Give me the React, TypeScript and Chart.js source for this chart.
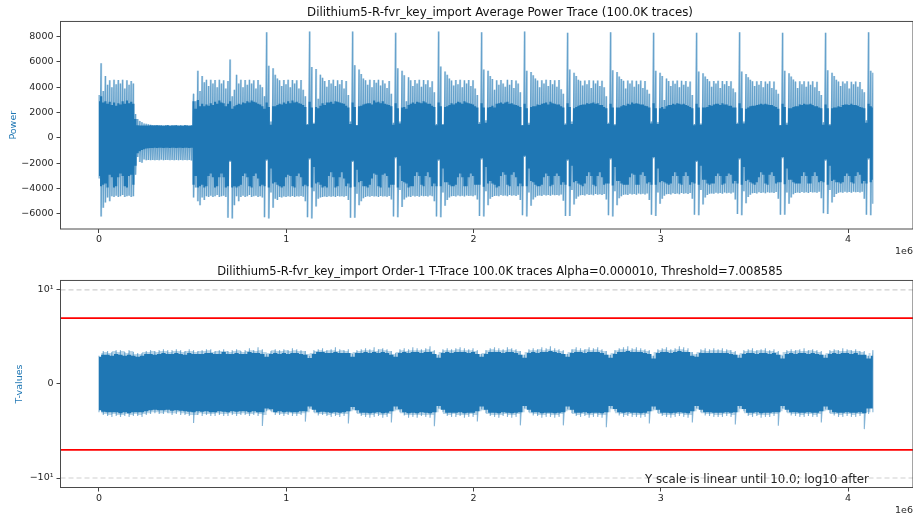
import React, { useEffect, useRef } from "react";
import { Chart, registerables } from "chart.js";

Chart.register(...registerables);

const traceColor = "#1f77b4";
const traceLine = "rgba(31,119,180,0.55)";
const traceWash = "rgba(31,119,180,0.3)";
const textColor = "#262626";
const fontFamily = "'DejaVu Sans', sans-serif";

const powerTitle = "Dilithium5-R-fvr_key_import Average Power Trace (100.0K traces)";
const tTitle = "Dilithium5-R-fvr_key_import Order-1 T-Trace 100.0K traces Alpha=0.000010, Threshold=7.008585";
const tNote = "Y scale is linear until 10.0; log10 after";

const xTicks = [0, 1000000, 2000000, 3000000, 4000000];
const xTickLabels = ["0", "1", "2", "3", "4"];
const powerTicks = [-6000, -4000, -2000, 0, 2000, 4000, 6000, 8000];
const tTicks = [-10, 0, 10];
const tTickLabels = ["−10¹", "0", "10¹"];
const tThreshold = 7.008585;
const tLogStart = 10;

const powerSampleGap = 11480;
const tSampleGap = 22960;

const powerHigh = [
  3400,5900,3700,4900,4200,4550,4000,4600,4250,4580,4300,4600,3900,4550,4200,4500,4300,1900,
  1500,1350,1250,1150,1120,1080,1050,1030,1020,1010,1000,1010,990,1000,1020,990,1000,1000,1010,990,
  1000,990,1010,1000,990,1000,3500,2900,5300,3700,4900,4400,4600,4100,4600,4300,4580,4000,4600,4300,
  4550,3900,4500,6200,3300,3800,5000,4300,4600,4000,4580,4200,4600,4300,4550,3900,4580,4200,4000,3300,
  8350,5700,1300,5500,5000,4700,4550,4100,4580,4250,4600,4000,4580,4300,4550,3900,4580,3800,3300,1100,
  8400,5600,1200,5450,3100,5000,4750,4500,4050,4570,4300,4600,4100,4550,4250,4580,3900,4500,3400,1300,
  8400,5750,1000,5400,5050,4700,4560,4200,4590,4000,4570,4350,4600,4150,4560,4300,3950,4500,3500,1200,
  8300,5500,1300,5300,4950,2900,4800,4550,4100,4580,4300,4590,4050,4570,4250,4560,4000,4480,3600,1100,
  8400,5650,1100,5250,5000,4700,4540,4150,4570,4250,4590,4000,4560,4300,4580,4100,4550,3900,3400,1250,
  8350,5400,1400,5300,4900,4650,3800,4560,4200,4580,4300,4050,4590,4200,4570,3950,4540,4300,3600,1000,
  8400,5300,1200,5200,4950,4700,4540,4000,4560,4300,4590,4100,4570,4250,4550,4050,4580,3850,3500,1150,
  8300,5400,1300,5150,4900,4600,4520,4150,4540,4250,4550,3950,4530,4300,4540,4100,4510,4000,3300,1200,
  8350,5350,1100,5200,4850,4650,4510,3900,4530,4300,4540,4050,4520,4250,4540,3950,4500,3800,3500,1300,
  8300,5300,1250,5150,4900,3000,4700,4500,4100,4510,4280,4530,4000,4510,4200,4490,4050,4450,3400,1100,
  8300,5250,1150,5100,4850,4650,4480,4050,4500,4300,4510,3950,4490,4250,4500,4100,4470,3900,3600,1200,
  8350,5250,1300,5050,4800,4600,4470,4100,4480,4200,4490,4000,4460,4280,4480,3950,4450,3800,3500,1000,
  8300,5300,1200,5100,4850,4620,4460,3950,4470,4250,4480,4050,4450,4200,4470,4000,4440,3700,3400,1250,
  8300,5350,1100,5150,4900,4600,4450,4100,4460,4300,4470,3900,4440,4250,4450,4050,4420,3850,3600,1400,
  8350,5300,5150,
];

const powerLow = [
  -3200,-6200,-5500,-5100,-4700,-5000,-4600,-4650,-4550,-4650,-4600,-4500,-4650,-4600,-4550,-4650,-4600,-2900,
  -1500,-1900,-1950,-1700,-1750,-1740,-1750,-1730,-1760,-1740,-1750,-1720,-1760,-1740,-1730,-1750,-1740,-1760,-1730,-1750,
  -1740,-1760,-1730,-1750,-1740,-1780,-4700,-3900,-5000,-5300,-4700,-4900,-4600,-4650,-4550,-4650,-4600,-4500,-4650,-4600,
  -4550,-4650,-6300,-1900,-6350,-5300,-4600,-5000,-4650,-4550,-4650,-4600,-4500,-4650,-4600,-4550,-4650,-4600,-4700,-6250,
  -1800,-6350,-4300,-5500,-4800,-4900,-4650,-4700,-4620,-4660,-4600,-4640,-4580,-4650,-4600,-4620,-4580,-4640,-5000,-6250,
  -1700,-6350,-4200,-5400,-4800,-4700,-4650,-4620,-4660,-4590,-4640,-4600,-4650,-4580,-4620,-4600,-4640,-4580,-4900,-6300,
  -1900,-6300,-4400,-5300,-5000,-4750,-4650,-4600,-4640,-4580,-4620,-4600,-4650,-4570,-4610,-4590,-4630,-4570,-4850,-6200,
  -1600,-6250,-4100,-5450,-4850,-4700,-4620,-4650,-4560,-4610,-4580,-4630,-4550,-4600,-4570,-4620,-4540,-4590,-5000,-6200,
  -1800,-6250,-4300,-5350,-4900,-4700,-4600,-4580,-4620,-4540,-4590,-4560,-4610,-4530,-4570,-4550,-4600,-4520,-4850,-6150,
  -1700,-6200,-4200,-5300,-4800,-4650,-4580,-4560,-4600,-4510,-4560,-4530,-4590,-4500,-4550,-4520,-4570,-4490,-4900,-6100,
  -1500,-6200,-4300,-5350,-4850,-4680,-4560,-4530,-4570,-4490,-4540,-4500,-4560,-4480,-4520,-4500,-4540,-4460,-4950,-6150,
  -1800,-6150,-4100,-5250,-4800,-4620,-4520,-4500,-4540,-4450,-4500,-4470,-4520,-4430,-4480,-4450,-4500,-4420,-4850,-6100,
  -1700,-6200,-4200,-5300,-4750,-4600,-4490,-4460,-4500,-4410,-4460,-4420,-4480,-4390,-4440,-4410,-4460,-4380,-4900,-6050,
  -1600,-6150,-4300,-5200,-4800,-4550,-4450,-4420,-4460,-4370,-4420,-4380,-4440,-4350,-4400,-4370,-4420,-4340,-4800,-6050,
  -1900,-6100,-4100,-5250,-4700,-4500,-4400,-4380,-4410,-4320,-4380,-4340,-4400,-4310,-4360,-4330,-4380,-4300,-4850,-6000,
  -1700,-6100,-4200,-5150,-4650,-4480,-4370,-4340,-4380,-4290,-4340,-4310,-4370,-4280,-4330,-4300,-4350,-4270,-4800,-6050,
  -1600,-6050,-4300,-5200,-4700,-4450,-4340,-4310,-4350,-4270,-4320,-4290,-4340,-4260,-4310,-4280,-4330,-4250,-4750,-5950,
  -1800,-6000,-4100,-5100,-4650,-4420,-4320,-4290,-4330,-4250,-4300,-4270,-4320,-4240,-4290,-4260,-4310,-4240,-4800,-6050,
  -1700,-6100,-5200,
];

const powerCoreHigh = [
  2900,3300,2800,2900,2700,2850,2600,2800,2550,2750,2650,2900,2700,2950,2750,2850,2700,1500,
  1000,990,980,990,980,990,1000,980,990,1000,980,990,970,990,1000,970,990,980,1000,970,
  990,970,1000,980,970,990,2900,2300,3000,2500,2700,2500,2650,2550,2750,2600,2850,2700,2950,2800,
  2750,2500,2700,2900,2300,2500,2600,2700,2650,2800,2750,2900,2800,2950,2850,2800,2700,2650,2500,2300,
  2800,2450,1050,2500,2500,2600,2700,2650,2800,2700,2900,2750,2950,2800,2850,2750,2700,2600,2450,1050,
  2850,2400,1100,2450,2350,2550,2750,2600,2800,2800,2850,2700,2900,2850,2800,2750,2700,2550,2400,1100,
  2800,2450,1000,2500,2550,2650,2700,2750,2750,2650,2950,2800,2850,2750,2900,2700,2650,2600,2500,1050,
  2750,2350,1150,2400,2450,2300,2600,2700,2800,2700,2850,2800,2750,2900,2800,2700,2700,2550,2450,1000,
  2800,2500,1050,2450,2500,2600,2750,2650,2750,2850,2800,2700,2900,2800,2750,2700,2650,2500,2400,1100,
  2750,2400,1200,2400,2450,2550,2400,2700,2750,2800,2700,2800,2850,2700,2750,2650,2600,2550,2450,1000,
  2700,2350,1050,2450,2500,2500,2650,2600,2700,2750,2800,2650,2850,2750,2700,2650,2650,2500,2400,1050,
  2750,2450,1100,2350,2450,2550,2600,2650,2650,2750,2700,2750,2800,2700,2750,2600,2600,2450,2350,1100,
  2700,2400,1000,2400,2400,2500,2600,2550,2700,2650,2800,2700,2750,2700,2650,2650,2550,2500,2400,1150,
  2750,2350,1100,2350,2450,2300,2500,2600,2600,2700,2650,2750,2700,2650,2700,2600,2550,2450,2350,1000,
  2700,2400,1050,2400,2400,2450,2600,2550,2650,2700,2700,2600,2750,2650,2650,2550,2550,2400,2400,1100,
  2750,2350,1150,2300,2400,2500,2550,2550,2600,2650,2700,2650,2700,2650,2600,2600,2500,2450,2300,1000,
  2700,2450,1050,2350,2350,2450,2500,2500,2650,2600,2700,2650,2650,2700,2600,2500,2500,2400,2350,1050,
  2650,2350,1000,2350,2400,2400,2500,2450,2600,2650,2650,2600,2700,2600,2600,2550,2450,2400,2350,1200,
  2700,2500,2400,
];

const powerCoreLow = [
  -3000,-3800,-3700,-3600,-3900,-2900,-3100,-3900,-3800,-3100,-2800,-3000,-3800,-3900,-3000,-2900,-3700,-2200,
  -1200,-1050,-950,-880,-840,-810,-800,-790,-780,-790,-770,-780,-790,-770,-780,-790,-770,-780,-790,-770,
  -780,-790,-770,-780,-790,-780,-3700,-3000,-3900,-3800,-3700,-3900,-3800,-3000,-2800,-3100,-3900,-3800,-3100,-2800,
  -3100,-3900,-3800,-1800,-3900,-3800,-3900,-3800,-3700,-3000,-2800,-3100,-3800,-3900,-3000,-2800,-3200,-3800,-3700,-3800,
  -1700,-3900,-2400,-3600,-3500,-3700,-3800,-3900,-3800,-3100,-2900,-3000,-3800,-3900,-3000,-2800,-3100,-3800,-3700,-3800,
  -1600,-3900,-2300,-3600,-3500,-3700,-3900,-3800,-3900,-3000,-2700,-3100,-3900,-3800,-3100,-2700,-3200,-3800,-3600,-3900,
  -1800,-3850,-2500,-3500,-3400,-3800,-3800,-3900,-3700,-3200,-2800,-2900,-3800,-3900,-2900,-2800,-3000,-3900,-3700,-3700,
  -1500,-3900,-2200,-3400,-3500,-3600,-3900,-3800,-3800,-3000,-2700,-3000,-3700,-3800,-3000,-2700,-3100,-3800,-3600,-3800,
  -1700,-3800,-2400,-3500,-3500,-3700,-3800,-3800,-3700,-3100,-2800,-3100,-3800,-3800,-3100,-2800,-3000,-3700,-3700,-3700,
  -1600,-3850,-2300,-3600,-3400,-3600,-3700,-3900,-3800,-3000,-2700,-2900,-3700,-3800,-2900,-2700,-3100,-3800,-3600,-3800,
  -1400,-3800,-2400,-3400,-3500,-3700,-3800,-3800,-3700,-3100,-2800,-3000,-3800,-3700,-3000,-2800,-3000,-3700,-3500,-3700,
  -1700,-3800,-2200,-3500,-3400,-3600,-3700,-3800,-3600,-3000,-2700,-3000,-3700,-3800,-3000,-2700,-3100,-3700,-3600,-3600,
  -1600,-3750,-2300,-3400,-3400,-3600,-3700,-3700,-3700,-3100,-2800,-2900,-3700,-3700,-2900,-2700,-3000,-3600,-3500,-3700,
  -1500,-3700,-2400,-3500,-3400,-3500,-3600,-3700,-3600,-3000,-2700,-3000,-3600,-3700,-3000,-2700,-3000,-3700,-3500,-3600,
  -1800,-3700,-2200,-3300,-3300,-3600,-3700,-3600,-3600,-3000,-2800,-3000,-3700,-3600,-3000,-2800,-2900,-3600,-3400,-3600,
  -1600,-3700,-2300,-3400,-3300,-3500,-3600,-3700,-3500,-3100,-2700,-2900,-3600,-3700,-2900,-2700,-3000,-3600,-3500,-3500,
  -1500,-3650,-2400,-3300,-3300,-3500,-3600,-3600,-3600,-3000,-2700,-3000,-3600,-3600,-3000,-2700,-3000,-3500,-3400,-3500,
  -1700,-3700,-2200,-3400,-3300,-3500,-3500,-3600,-3500,-3000,-2800,-3000,-3500,-3600,-3000,-2700,-2900,-3600,-3400,-3600,
  -1600,-3500,-3300,
];

const tTipHigh = [
  3.0,3.5,3.5,3.4,3.6,3.6,3.4,3.6,3.4,3.3,
  3.3,3.5,3.6,3.5,3.6,3.7,3.6,3.6,3.7,3.6,
  3.5,3.7,3.6,3.5,3.6,3.7,3.7,3.5,3.6,3.7,
  3.5,3.6,3.7,3.5,3.6,3.8,3.6,3.9,3.7,
  3.2,3.5,3.7,3.6,3.7,3.6,3.8,3.7,3.6,3.5,
  3.0,3.6,3.7,3.8,3.6,3.7,3.9,3.7,3.6,3.7,
  3.2,3.6,3.7,3.8,3.7,3.9,3.7,3.8,3.7,3.5,
  3.3,3.7,3.8,3.7,3.9,3.8,3.7,3.8,4.0,3.6,
  3.1,3.7,3.8,3.7,3.8,3.9,3.8,3.7,3.8,3.6,
  3.2,3.6,3.8,3.9,3.8,3.7,3.9,3.8,3.7,3.5,
  3.1,3.7,3.8,3.7,3.9,3.8,4.0,3.8,3.7,3.6,
  3.2,3.7,3.9,3.8,3.7,3.9,3.8,3.9,3.7,3.5,
  3.1,3.6,3.8,3.9,4.0,3.8,3.9,3.8,3.7,3.6,
  3.0,3.7,3.8,3.9,3.7,3.8,4.0,3.9,3.8,3.4,
  3.2,3.7,3.8,3.7,3.8,3.7,3.8,3.7,3.6,3.5,
  3.1,3.6,3.7,3.8,3.6,3.7,3.8,3.6,3.7,3.5,
  3.0,3.6,3.7,3.6,3.7,3.8,3.6,3.7,3.6,3.5,
  3.1,3.6,3.7,3.6,3.8,3.7,3.6,3.7,3.5,3.5,
  3.0,3.6,
];

const tTipHighMid = [
  3.3,3.4,3.3,3.5,3.4,3.5,3.3,3.5,3.2,3.2,
  3.4,3.4,3.5,3.4,3.5,3.5,3.4,3.5,3.5,3.4,
  3.5,3.5,3.4,3.5,3.5,3.6,3.4,3.5,3.5,3.5,
  3.4,3.5,3.6,3.4,3.5,3.6,3.5,3.6,3.4,
  3.3,3.6,3.5,3.5,3.6,3.5,3.6,3.5,3.5,3.2,
  3.3,3.5,3.6,3.5,3.6,3.6,3.5,3.6,3.5,3.3,
  3.4,3.5,3.6,3.6,3.6,3.5,3.7,3.6,3.5,3.2,
  3.4,3.6,3.5,3.6,3.6,3.6,3.6,3.7,3.5,3.1,
  3.4,3.6,3.6,3.6,3.7,3.6,3.6,3.6,3.5,3.2,
  3.3,3.6,3.7,3.6,3.6,3.6,3.7,3.6,3.5,3.1,
  3.4,3.6,3.6,3.7,3.6,3.7,3.6,3.6,3.5,3.2,
  3.4,3.7,3.6,3.6,3.7,3.6,3.7,3.6,3.5,3.1,
  3.3,3.6,3.7,3.7,3.6,3.7,3.6,3.6,3.5,3.0,
  3.4,3.6,3.7,3.6,3.6,3.7,3.7,3.6,3.4,3.2,
  3.4,3.6,3.5,3.6,3.6,3.6,3.5,3.6,3.4,3.1,
  3.3,3.5,3.6,3.5,3.6,3.6,3.5,3.5,3.4,3.1,
  3.4,3.5,3.5,3.6,3.5,3.5,3.6,3.5,3.4,3.1,
  3.3,3.5,3.6,3.5,3.5,3.6,3.5,3.5,3.4,3.0,
  3.3,
];

const tBodyHigh = [
  2.9,3.1,3.1,3.0,3.2,3.1,3.0,3.1,3.0,2.9,
  3.0,3.2,3.2,3.1,3.2,3.3,3.2,3.2,3.3,3.2,
  3.1,3.3,3.2,3.2,3.2,3.3,3.3,3.2,3.2,3.4,
  3.2,3.2,3.3,3.2,3.2,3.4,3.3,3.3,3.2,
  2.9,3.2,3.3,3.2,3.3,3.2,3.3,3.3,3.2,3.1,
  2.75,3.2,3.4,3.4,3.3,3.3,3.4,3.3,3.3,3.3,
  2.9,3.3,3.3,3.4,3.3,3.4,3.3,3.4,3.3,3.1,
  2.9,3.3,3.4,3.3,3.4,3.4,3.3,3.4,3.4,3.2,
  2.8,3.3,3.4,3.3,3.4,3.4,3.4,3.3,3.4,3.2,
  2.9,3.2,3.4,3.4,3.4,3.3,3.4,3.4,3.3,3.1,
  2.8,3.3,3.4,3.3,3.4,3.4,3.5,3.4,3.3,3.2,
  2.9,3.3,3.4,3.4,3.3,3.4,3.4,3.4,3.3,3.1,
  2.8,3.2,3.4,3.4,3.5,3.4,3.4,3.4,3.3,3.2,
  2.7,3.3,3.4,3.4,3.3,3.4,3.5,3.4,3.4,3.0,
  2.9,3.3,3.3,3.3,3.3,3.3,3.3,3.3,3.2,3.1,
  2.8,3.2,3.3,3.3,3.2,3.3,3.3,3.2,3.3,3.1,
  2.7,3.2,3.3,3.2,3.3,3.3,3.2,3.3,3.2,3.1,
  2.8,3.2,3.3,3.2,3.3,3.3,3.2,3.3,3.1,3.1,
  2.7,3.0,
];

const tTipLow = [
  -3.0,-3.3,-3.4,-3.5,-3.4,-3.5,-3.4,-3.5,-3.4,-3.4,
  -3.5,-3.3,-3.2,-3.1,-3.2,-3.2,-3.1,-3.3,-3.2,-3.3,
  -3.3,-3.4,-4.15,-3.3,-3.4,-3.3,-3.4,-3.4,-3.3,-3.4,
  -3.4,-3.3,-3.4,-3.3,-3.3,-3.4,-3.3,-3.4,-4.47,
  -2.9,-2.9,-3.3,-3.3,-3.4,-3.3,-3.4,-3.4,-3.3,-4.0,
  -2.6,-3.0,-3.35,-3.3,-3.4,-3.5,-3.4,-3.5,-3.4,-4.2,
  -2.7,-3.1,-3.4,-3.5,-3.6,-3.5,-3.4,-3.6,-3.5,-4.1,
  -2.7,-3.0,-3.35,-3.6,-3.5,-3.6,-3.4,-3.5,-3.6,-4.5,
  -2.6,-3.0,-3.4,-3.5,-3.5,-3.4,-3.6,-3.5,-3.5,-4.0,
  -2.7,-3.1,-3.4,-3.5,-3.6,-3.4,-3.5,-3.6,-3.5,-4.4,
  -2.6,-3.0,-3.35,-3.4,-3.6,-3.5,-3.5,-3.6,-3.5,-4.4,
  -2.7,-3.1,-3.4,-3.5,-3.4,-3.6,-3.5,-3.5,-3.6,-4.6,
  -2.6,-2.9,-3.35,-3.5,-3.4,-3.5,-3.5,-3.6,-3.5,-4.2,
  -2.7,-3.1,-3.4,-3.5,-3.6,-3.5,-3.4,-3.5,-3.6,-4.1,
  -2.6,-3.0,-3.35,-3.4,-3.5,-3.5,-3.5,-3.4,-3.5,-4.3,
  -2.6,-2.9,-3.4,-3.5,-3.4,-3.6,-3.5,-3.5,-3.4,-4.45,
  -2.6,-3.0,-3.35,-3.4,-3.5,-3.5,-3.4,-3.5,-3.5,-4.1,
  -2.7,-3.1,-3.35,-3.5,-3.5,-3.4,-3.5,-3.5,-3.4,-4.8,
  -3.2,-3.0,
];

const tTipLowMid = [
  -3.1,-3.2,-3.3,-3.2,-3.3,-3.3,-3.2,-3.3,-3.2,-3.3,
  -3.2,-3.1,-3.0,-3.0,-3.1,-3.0,-3.1,-3.1,-3.0,-3.1,
  -3.2,-3.3,-3.3,-3.1,-3.2,-3.2,-3.2,-3.1,-3.2,-3.2,
  -3.1,-3.2,-3.2,-3.1,-3.2,-3.2,-3.1,-3.2,-3.3,
  -2.8,-3.0,-3.1,-3.2,-3.2,-3.1,-3.2,-3.2,-3.1,-3.0,
  -2.7,-3.1,-3.2,-3.2,-3.3,-3.2,-3.3,-3.2,-3.2,-2.9,
  -2.8,-3.2,-3.3,-3.3,-3.3,-3.2,-3.3,-3.3,-3.2,-2.9,
  -2.8,-3.1,-3.3,-3.3,-3.3,-3.3,-3.3,-3.3,-3.3,-3.0,
  -2.7,-3.2,-3.3,-3.2,-3.3,-3.3,-3.3,-3.2,-3.3,-2.9,
  -2.8,-3.2,-3.3,-3.3,-3.3,-3.2,-3.3,-3.3,-3.2,-3.0,
  -2.7,-3.1,-3.2,-3.3,-3.3,-3.2,-3.3,-3.3,-3.2,-2.9,
  -2.8,-3.2,-3.3,-3.2,-3.3,-3.3,-3.2,-3.3,-3.3,-3.0,
  -2.7,-3.1,-3.2,-3.3,-3.2,-3.3,-3.3,-3.3,-3.2,-2.9,
  -2.8,-3.2,-3.3,-3.3,-3.3,-3.2,-3.2,-3.3,-3.3,-2.9,
  -2.7,-3.1,-3.2,-3.2,-3.3,-3.3,-3.2,-3.2,-3.3,-3.0,
  -2.7,-3.1,-3.3,-3.2,-3.3,-3.3,-3.3,-3.2,-3.2,-2.9,
  -2.7,-3.1,-3.2,-3.2,-3.3,-3.2,-3.2,-3.3,-3.2,-2.9,
  -2.8,-3.2,-3.2,-3.3,-3.2,-3.2,-3.3,-3.2,-3.2,-3.0,
  -3.0,
];

const tBodyLow = [
  -2.8,-2.95,-3.0,-3.0,-3.0,-3.1,-3.0,-3.1,-3.0,-3.0,
  -3.0,-2.9,-2.8,-2.75,-2.8,-2.8,-2.75,-2.85,-2.8,-2.85,
  -2.9,-2.95,-3.0,-2.9,-2.95,-2.9,-3.0,-3.0,-2.9,-2.95,
  -3.0,-2.9,-2.95,-2.9,-2.9,-3.0,-2.9,-3.0,-3.0,
  -2.6,-2.7,-3.0,-2.9,-3.0,-2.95,-3.0,-3.0,-2.9,-2.9,
  -2.4,-2.75,-3.0,-2.95,-3.0,-3.05,-3.0,-3.05,-3.0,-2.9,
  -2.45,-2.8,-3.05,-3.05,-3.1,-3.05,-3.0,-3.1,-3.05,-2.9,
  -2.4,-2.7,-3.0,-3.1,-3.05,-3.1,-3.0,-3.05,-3.1,-3.0,
  -2.35,-2.75,-3.05,-3.05,-3.05,-3.0,-3.1,-3.05,-3.05,-2.9,
  -2.4,-2.75,-3.05,-3.05,-3.1,-3.0,-3.05,-3.1,-3.05,-3.0,
  -2.35,-2.75,-3.0,-3.0,-3.1,-3.05,-3.05,-3.1,-3.05,-3.0,
  -2.4,-2.75,-3.05,-3.05,-3.0,-3.1,-3.05,-3.05,-3.1,-3.0,
  -2.35,-2.65,-3.0,-3.05,-3.0,-3.05,-3.05,-3.1,-3.05,-2.9,
  -2.4,-2.75,-3.05,-3.05,-3.1,-3.05,-3.0,-3.05,-3.1,-2.9,
  -2.35,-2.75,-3.0,-3.0,-3.05,-3.05,-3.05,-3.0,-3.05,-3.0,
  -2.35,-2.65,-3.05,-3.05,-3.0,-3.1,-3.05,-3.05,-3.0,-3.0,
  -2.35,-2.75,-3.0,-3.0,-3.05,-3.05,-3.0,-3.05,-3.05,-2.9,
  -2.4,-2.75,-3.0,-3.05,-3.05,-3.0,-3.05,-3.05,-3.0,-3.1,
  -2.6,-2.6,
];

const xMin = -205500;
const xMax = 4347000;

const series = (values: number[], gap: number, shift = 0) => values.map((y, i) => ({ x: (i + shift) * gap, y }));
const zigzag = (high: number[], low: number[], gap: number, shift = 0) =>
  high.flatMap((h, i) => [
    { x: (i + shift) * gap, y: h },
    { x: (i + shift) * gap, y: low[i] },
  ]);
const level = (y: number) => [
  { x: xMin, y },
  { x: xMax, y },
];

const baseLine = { pointRadius: 0, tension: 0, fill: false, spanGaps: true };
const bandLine = { ...baseLine, borderWidth: 0, stepped: "middle" };

const framePlugin = {
  id: "frame",
  afterDraw(chart: any) {
    const { ctx, chartArea: a } = chart;
    ctx.save();
    ctx.strokeStyle = "#4a4a4a";
    ctx.lineWidth = 1;
    ctx.strokeRect(a.left, a.top, a.right - a.left, a.bottom - a.top);
    const note = chart.options.plugins.note;
    if (note && note.text) {
      ctx.fillStyle = textColor;
      ctx.font = `11.8px ${fontFamily}`;
      ctx.textAlign = "left";
      ctx.textBaseline = "middle";
      ctx.fillText(note.text, note.x, note.y);
    }
    ctx.restore();
  },
};

function options(opts: {
  title: string;
  titleSize: number;
  titlePad: { top: number; bottom: number };
  yTitle: string;
  yTitlePad: number;
  yMin: number;
  yMax: number;
  yTicks: number[];
  yLabel: (v: number) => string;
  xHeight: number;
  note?: any;
}) {
  return {
    responsive: false,
    animation: false,
    events: [],
    parsing: false,
    normalized: true,
    layout: { padding: 0 },
    plugins: {
      legend: { display: false },
      tooltip: { enabled: false },
      title: {
        display: true,
        text: opts.title,
        color: "#111",
        font: { family: fontFamily, size: opts.titleSize, weight: "normal" },
        padding: opts.titlePad,
      },
      note: opts.note,
    },
    scales: {
      x: {
        type: "linear",
        min: xMin,
        max: xMax,
        afterBuildTicks(s: any) {
          s.ticks = xTicks.map((value) => ({ value }));
        },
        afterFit(s: any) {
          s.height = opts.xHeight;
        },
        grid: { drawOnChartArea: false, drawTicks: true, tickLength: 4, color: "#444" },
        border: { display: false },
        ticks: {
          color: textColor,
          font: { family: fontFamily, size: 9.5 },
          padding: 1,
          maxRotation: 0,
          autoSkip: false,
          callback: (v: number) => xTickLabels[xTicks.indexOf(v)],
        },
        title: {
          display: true,
          text: "1e6",
          align: "end",
          color: textColor,
          font: { family: fontFamily, size: 9.5 },
          padding: { top: 0, bottom: 2.5 },
        },
      },
      y: {
        type: "linear",
        min: opts.yMin,
        max: opts.yMax,
        afterBuildTicks(s: any) {
          s.ticks = opts.yTicks.map((value) => ({ value }));
        },
        afterFit(s: any) {
          s.width = 60.5;
        },
        grid: { drawOnChartArea: false, drawTicks: true, tickLength: 4, color: "#444" },
        border: { display: false },
        ticks: {
          color: textColor,
          font: { family: fontFamily, size: 9.5 },
          padding: 3,
          autoSkip: false,
          callback: opts.yLabel,
        },
        title: {
          display: true,
          text: opts.yTitle,
          color: traceColor,
          font: { family: fontFamily, size: 9.5 },
          padding: { top: opts.yTitlePad, bottom: 0 },
        },
      },
      // Empty right-hand box: the plot stops at the page edge while the title stays centred on the wider figure.
      rightGutter: {
        axis: "y",
        position: "right",
        display: true,
        grid: { display: false },
        border: { display: false },
        ticks: { display: false },
        afterFit(s: any) {
          s.width = 87;
        },
      },
    },
  };
}

export default function App() {
  const topRef = useRef<HTMLCanvasElement>(null);
  const bottomRef = useRef<HTMLCanvasElement>(null);

  useEffect(() => {
    const top = new Chart(topRef.current as any, {
      type: "line",
      plugins: [framePlugin],
      data: {
        datasets: [
          { ...bandLine, data: series(powerCoreHigh, powerSampleGap), fill: "+1", backgroundColor: traceColor },
          { ...bandLine, data: series(powerCoreLow, powerSampleGap) },
          { ...baseLine, data: zigzag(powerHigh, powerLow, powerSampleGap), borderColor: traceLine, borderWidth: 1.1, borderJoinStyle: "bevel" },
          { ...bandLine, data: series(powerHigh, powerSampleGap), fill: "+1", backgroundColor: traceWash },
          { ...bandLine, data: series(powerLow, powerSampleGap) },
        ],
      },
      options: options({
        title: powerTitle,
        titleSize: 11.8,
        titlePad: { top: 6, bottom: 1.3 },
        yTitle: "Power",
        yTitlePad: 8,
        yMin: -7184,
        yMax: 9197,
        yTicks: powerTicks,
        yLabel: (v: number) => String(v).replace("-", "−"),
        xHeight: 31,
      }) as any,
    });
    const bottom = new Chart(bottomRef.current as any, {
      type: "line",
      plugins: [framePlugin],
      data: {
        datasets: [
          { ...baseLine, data: level(tThreshold), borderColor: "#ff0000", borderWidth: 1.6 },
          { ...baseLine, data: level(-tThreshold), borderColor: "#ff0000", borderWidth: 1.6 },
          { ...baseLine, data: level(tLogStart), borderColor: "#cfcfcf", borderWidth: 1.2, borderDash: [5, 3] },
          { ...baseLine, data: level(-tLogStart), borderColor: "#cfcfcf", borderWidth: 1.2, borderDash: [5, 3] },
          { ...bandLine, data: series(tBodyHigh, tSampleGap), fill: "+1", backgroundColor: traceColor },
          { ...bandLine, data: series(tBodyLow, tSampleGap) },
          { ...baseLine, data: zigzag(tTipHigh, tTipLow, tSampleGap), borderColor: traceLine, borderWidth: 1.1, borderJoinStyle: "bevel" },
          { ...bandLine, data: series(tTipHighMid, tSampleGap, 0.5), fill: "+1", backgroundColor: traceWash },
          { ...bandLine, data: series(tTipLowMid, tSampleGap, 0.5) },
        ],
      },
      options: options({
        title: tTitle,
        titleSize: 11.55,
        titlePad: { top: 5, bottom: 1.6 },
        yTitle: "T-values",
        yTitlePad: 14,
        yMin: -11.01,
        yMax: 11.01,
        yTicks: tTicks,
        yLabel: (v: number) => tTickLabels[tTicks.indexOf(v)],
        xHeight: 31.5,
        note: { text: tNote, x: 645, y: 220 },
      }) as any,
    });
    return () => {
      top.destroy();
      bottom.destroy();
    };
  }, []);

  return (
    <div style={{ position: "absolute", left: 0, top: 0, width: 913, height: 519, overflow: "hidden", background: "#fff" }}>
      <canvas ref={topRef} width={1000} height={260} style={{ position: "absolute", left: 0, top: 0, width: 1000, height: 260 }} />
      <canvas ref={bottomRef} width={1000} height={259} style={{ position: "absolute", left: 0, top: 260, width: 1000, height: 259 }} />
    </div>
  );
}
